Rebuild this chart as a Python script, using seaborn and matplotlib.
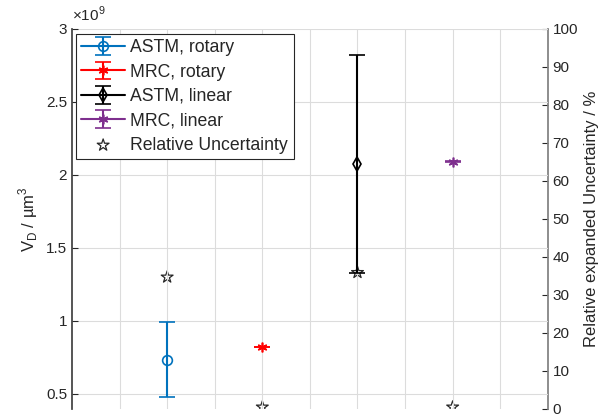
import numpy as np
import pandas as pd
import matplotlib
matplotlib.use("Agg")
import matplotlib.pyplot as plt
import seaborn as sns

# values in units of 1e9 um^3
labels = ["ASTM, rotary", "MRC, rotary", "ASTM, linear", "MRC, linear"]
xpos = [1, 2, 3, 4]
vd = [0.735, 0.82, 2.075, 2.09]
vd_err = [0.255, 0.002, 0.745, 0.002]
rel_unc = [34.7, 0.5, 35.9, 0.5]

colors = ["#0072BD", "#FF0000", "#000000", "#7E2F8E"]
asterisk = (6, 2, 0)
markers = ["o", asterisk, "d", asterisk]

sns.set_theme(style="ticks")
plt.rcParams["font.family"] = ["Liberation Sans", "DejaVu Sans"]

fig = plt.figure(figsize=(6, 4.19), dpi=100)
ax = fig.add_axes([0.12, 0.024, 0.793, 0.907])

for i in range(4):
    ax.errorbar(xpos[i], vd[i], yerr=vd_err[i], color=colors[i], marker=markers[i],
                markersize=7, mfc="none", mew=1.2, capsize=6, elinewidth=1.5,
                capthick=1.2, linestyle="-", linewidth=1.5, label=labels[i])

ax.set_xlim(0, 5)
ax.set_ylim(0.397, 3)
ax.set_xticks(np.arange(0.5, 5, 0.5))
ax.set_xticklabels([])
ax.set_yticks([0.5, 1, 1.5, 2, 2.5, 3])
ax.set_yticklabels(["0.5", "1", "1.5", "2", "2.5", "3"])
ax.grid(True, color="#dcdcdc", linewidth=0.8)
ax.tick_params(direction="in", length=4, labelsize=11, colors="#262626", width=0.8)
ax.tick_params(axis="x", length=0)
ax.set_ylabel("V$_\\mathregular{D}$ / µm$^\\mathregular{3}$", fontsize=12, color="#262626")
ax.text(0.0, 1.012, "×10$^\\mathregular{9}$", transform=ax.transAxes, fontsize=11, color="#262626", va="bottom")
for s in ["top", "right"]:
    ax.spines[s].set_visible(False)
ax.spines["left"].set_color("#404040")
ax.spines["bottom"].set_visible(False)

ax2 = ax.twinx()
df = pd.DataFrame({"x": xpos, "rel": rel_unc})
sns.scatterplot(data=df, x="x", y="rel", ax=ax2, marker="*", s=80, facecolor="none",
                edgecolor="#262626", linewidth=0.9, label="Relative Uncertainty", legend=False)
ax2.set_ylim(0, 100)
ax2.set_yticks(np.arange(0, 101, 10))
ax2.set_ylabel("Relative expanded Uncertainty / %", fontsize=12, color="#262626")
ax2.set_xlabel("")
ax2.tick_params(direction="in", length=4, labelsize=11, colors="#262626", width=0.8)
ax2.spines["right"].set_color("#808080")
for s in ["top", "left", "bottom"]:
    ax2.spines[s].set_visible(False)

h1, l1 = ax.get_legend_handles_labels()
h2, l2 = ax2.get_legend_handles_labels()
leg = ax.legend(h1 + h2, l1 + l2, loc="upper left", fontsize=12.7, frameon=True, fancybox=False,
                edgecolor="#262626", framealpha=1, borderpad=0.3, labelspacing=0.42,
                handlelength=2.5, handletextpad=0.3, borderaxespad=0, bbox_to_anchor=(0.008, 0.987))
leg.get_frame().set_linewidth(0.8)
ax.set_zorder(ax2.get_zorder() + 1)
ax.patch.set_visible(False)

fig.savefig("out.png", dpi=100)
